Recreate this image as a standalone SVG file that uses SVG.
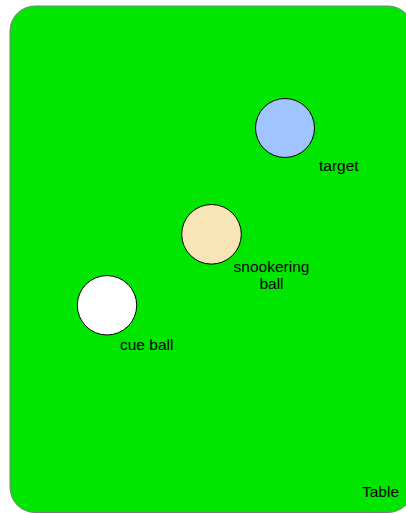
<svg xmlns="http://www.w3.org/2000/svg" width="406" height="514" viewBox="0 0 406 514">
<style>
text{font-family:"Liberation Sans",Arial,sans-serif;font-size:15.5px;fill:#000}
.ball{stroke:#000;stroke-width:1}
</style>
<rect x="0" y="0" width="406" height="514" fill="#fff"/>
<g id="table">
<rect x="10" y="6" width="403" height="506.5" rx="25" ry="25" fill="#00E600" stroke="#7f7f7f" stroke-width="1"/>
<text x="362" y="497">Table</text>
</g>
<g id="target">
<circle class="ball" cx="285" cy="128" r="29.5" fill="#A0C4FF"/>
<text x="319" y="171">target</text>
</g>
<g id="snookering-ball">
<circle class="ball" cx="211.5" cy="234.3" r="29.8" fill="#F9E4B6"/>
<text x="271.5" y="272" text-anchor="middle">snookering</text>
<text x="271.5" y="289" text-anchor="middle">ball</text>
</g>
<g id="cue-ball">
<circle class="ball" cx="107" cy="305.3" r="29.7" fill="#fff"/>
<text x="120" y="350">cue ball</text>
</g>
<g id="connectors"/>
</svg>
